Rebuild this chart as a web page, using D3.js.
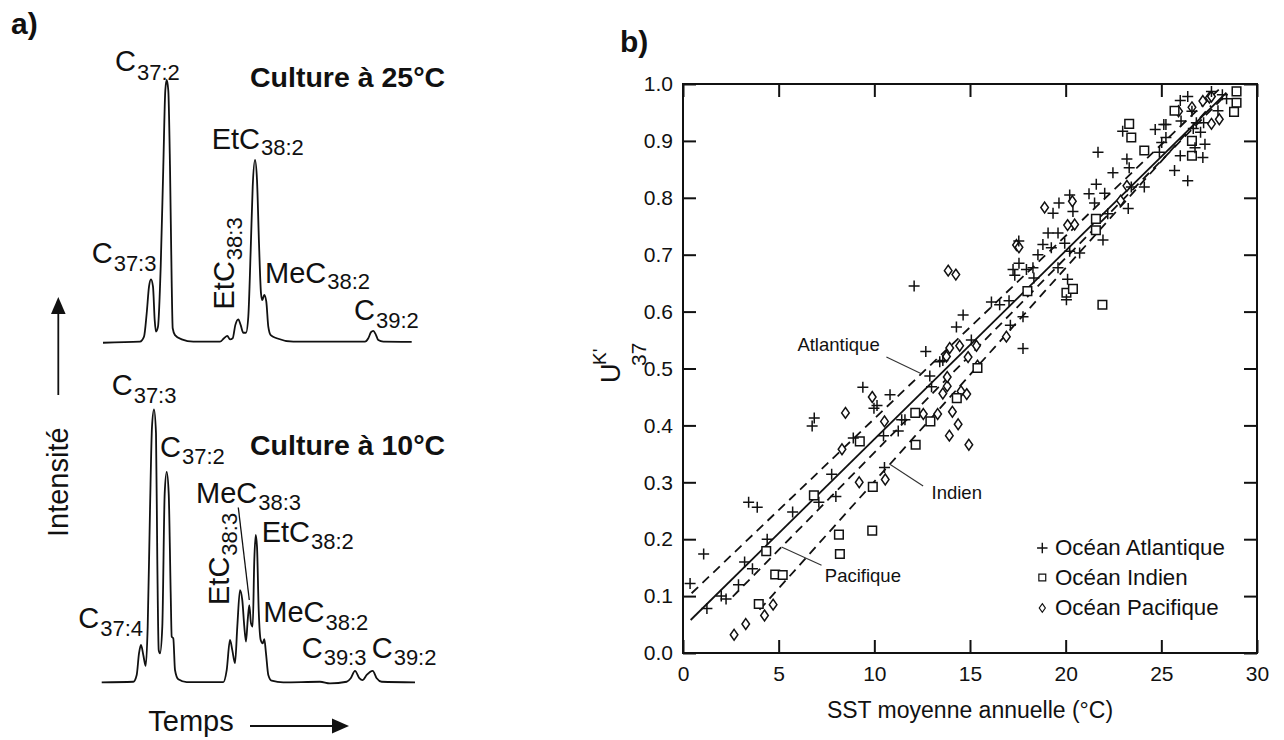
<!DOCTYPE html>
<html><head><meta charset="utf-8">
<script src="https://cdn.jsdelivr.net/npm/d3@7"></script>
<style>
body{margin:0;background:#fff}
svg{display:block}
text{font-family:"Liberation Sans",Arial,Helvetica,sans-serif;fill:#111}
</style>
</head><body>
<svg id="chart" width="1284" height="740"></svg>
<script>
// ---------------- DATA ----------------
// Panel a: chromatograms (retention time [arbitrary units], intensity [% of largest peak])
const trace25 = [[0,0.1],[3.7,0.5],[4.1,2.4],[4.37,11.3],[4.6,21.4],[4.8,24.2],[5.0,21.4],[5.17,8.7],[5.3,4.3],[5.5,6.2],[5.77,29],[6.03,67],[6.23,96],[6.37,100],[6.53,96],[6.7,67],[6.87,22.7],[6.97,5.6],[7.2,3.0],[7.87,1.4],[9.03,0.5],[11.7,0.5],[12.1,1.8],[12.43,2.7],[12.7,1.4],[12.97,1.8],[13.23,6.8],[13.53,9.0],[13.77,6.8],[14.03,3.9],[14.3,3.9],[14.53,10],[14.77,35.4],[14.97,59.4],[15.2,69.6],[15.4,62],[15.6,37.9],[15.8,18.9],[15.93,16.3],[16.13,18.3],[16.33,15.7],[16.53,6.2],[16.77,3.0],[17.37,1.8],[19.03,0.5],[26.2,0.5],[26.53,1.8],[26.8,4.1],[27.03,4.6],[27.27,3.3],[27.53,1.1],[28.03,0.5],[30.87,0.4]];
const trace10 = [[-0.13,0],[3.03,0.2],[3.37,2.7],[3.6,10.6],[3.8,13.7],[4.03,10],[4.27,6],[4.47,20.4],[4.7,63],[4.9,93.6],[5.1,100],[5.3,91.2],[5.43,44.8],[5.57,11.8],[5.7,10.6],[5.93,20.4],[6.17,69.2],[6.37,77.1],[6.57,69.2],[6.77,32.6],[6.87,16.7],[7.03,16.1],[7.2,4.5],[7.53,1.1],[8.37,0.1],[12.03,0.1],[12.37,4.5],[12.7,15.5],[12.93,11.8],[13.2,7],[13.43,20.4],[13.7,33.8],[13.93,30.1],[14.13,20.4],[14.3,14.9],[14.47,22.8],[14.63,28.3],[14.8,21.6],[14.97,20.4],[15.13,44.8],[15.27,54],[15.4,49.7],[15.57,26.5],[15.77,15.5],[15.97,14.3],[16.13,15.8],[16.3,10.6],[16.53,2.7],[16.87,0.6],[18.03,0],[21.7,0.2],[22.7,-0.4],[24.37,0.2],[24.77,1.5],[25.2,4.2],[25.63,1.5],[25.97,0.8],[26.37,2.7],[26.97,4.2],[27.37,1.5],[27.87,0.2],[31.2,0]];
const titleA25 = "Culture à 25°C";
const titleA10 = "Culture à 10°C";

// Panel b: UK'37 vs annual mean SST
const xTicks = [0, 5, 10, 15, 20, 25, 30];
const yTicks = [0.0, 0.1, 0.2, 0.3, 0.4, 0.5, 0.6, 0.7, 0.8, 0.9, 1.0];
const atlantic = [[0.37,0.122],[1.08,0.174],[1.25,0.078],[2.0,0.100],[2.25,0.095],[2.9,0.12],[3.22,0.16],[3.63,0.148],[3.43,0.265],[3.88,0.256],[4.4,0.2],[5.73,0.248],[6.75,0.399],[6.86,0.413],[7.1,0.265],[7.77,0.314],[7.99,0.275],[8.9,0.378],[9.4,0.467],[9.98,0.43],[10.14,0.435],[10.48,0.382],[10.53,0.326],[10.82,0.454],[11.25,0.39],[11.43,0.41],[11.6,0.41],[12.08,0.645],[12.69,0.53],[12.9,0.487],[12.99,0.468],[13.42,0.512],[13.58,0.514],[14.29,0.573],[14.64,0.594],[15.07,0.55],[16.12,0.617],[16.55,0.612],[17.04,0.619],[17.11,0.576],[17.77,0.535],[17.77,0.591],[17.34,0.664],[17.55,0.724],[17.25,0.674],[17.56,0.685],[17.95,0.674],[18.29,0.677],[18.34,0.659],[18.55,0.7],[18.81,0.718],[19.25,0.712],[19.08,0.738],[19.6,0.738],[19.95,0.72],[20.21,0.706],[20.73,0.703],[19.6,0.677],[19.34,0.773],[19.65,0.791],[20.21,0.805],[20.38,0.776],[21.22,0.807],[21.51,0.791],[21.6,0.824],[22.04,0.808],[21.69,0.88],[21.95,0.726],[22.47,0.844],[22.2,0.772],[20.04,0.621],[20.1,0.657],[22.98,0.917],[23.2,0.868],[23.32,0.853],[23.27,0.781],[23.43,0.819],[24.11,0.819],[24.68,0.92],[25.13,0.929],[25.24,0.929],[24.9,0.88],[25.02,0.897],[25.24,0.906],[25.69,0.848],[25.99,0.874],[25.99,0.971],[26.38,0.978],[26.03,0.935],[26.38,0.83],[26.6,0.952],[26.76,0.888],[27.05,0.915],[27.17,0.871],[27.28,0.894],[27.62,0.987],[27.96,0.953],[28.19,0.981],[28.41,0.974],[26.83,0.932],[27.21,0.932],[26.67,0.922]];
const indian = [[3.96,0.086],[4.35,0.179],[4.82,0.138],[5.21,0.137],[6.84,0.277],[8.15,0.208],[8.2,0.174],[9.24,0.372],[9.89,0.215],[9.92,0.292],[12.14,0.422],[12.16,0.366],[12.93,0.407],[14.31,0.448],[15.39,0.501],[20.04,0.633],[20.38,0.64],[21.92,0.612],[21.58,0.763],[21.58,0.743],[23.32,0.93],[23.43,0.906],[24.11,0.883],[25.69,0.953],[26.6,0.9],[26.6,0.874],[28.93,0.987],[28.93,0.967],[28.8,0.951],[18.0,0.636]];
const pacific = [[2.67,0.032],[3.28,0.051],[4.26,0.066],[4.71,0.085],[8.31,0.358],[8.49,0.422],[9.21,0.3],[9.89,0.45],[10.53,0.407],[10.57,0.305],[12.56,0.42],[13.31,0.42],[13.58,0.456],[13.81,0.469],[13.81,0.485],[13.92,0.382],[14.08,0.424],[14.38,0.402],[14.53,0.46],[14.83,0.455],[14.94,0.366],[15.39,0.505],[13.86,0.672],[14.26,0.665],[13.94,0.536],[14.46,0.54],[13.77,0.521],[15.34,0.54],[14.9,0.52],[16.9,0.556],[17.43,0.717],[17.56,0.713],[18.9,0.783],[20.1,0.752],[20.35,0.794],[20.47,0.753],[22.87,0.795],[23.2,0.821],[25.9,0.952],[26.6,0.959],[27.17,0.97],[27.51,0.976],[27.62,0.978],[27.62,0.93],[28.03,0.938]];
const globalFit = [[0.4, 0.058], [28.4, 0.985]];
const atlanticFit = [[0.45, 0.105], [28.0, 0.99]];
const pacificFit = [[2.6, 0.099], [28.2, 0.975]];
const indianFit = [[4.0, 0.076], [27.6, 0.962]];
const legendLabels = ["Océan Atlantique", "Océan Indien", "Océan Pacifique"];
const fitLabels = ["Atlantique", "Indien", "Pacifique"];
const xTitle = "SST moyenne annuelle (°C)";

// ---------------- DRAW ----------------
const svg = d3.select("#chart");
const F = '"Liberation Sans",Arial,Helvetica,sans-serif';

// ===== Panel a =====
const ga = svg.append("g");
ga.append("text").attr("x", 11).attr("y", 34).attr("font-size", 30).attr("font-weight", "bold").text("a)");

const xa = d3.scaleLinear().domain([0, 31]).range([103, 413]);
const ya25 = d3.scaleLinear().domain([0, 100]).range([343, 80]);
const ya10 = d3.scaleLinear().domain([0, 100]).range([682.3, 409.3]);

const lineA = (ys) => d3.line().x(d => xa(d[0])).y(d => ys(d[1])).curve(d3.curveMonotoneX);
ga.append("path").attr("d", lineA(ya25)(trace25)).attr("fill", "none").attr("stroke", "#111").attr("stroke-width", 1.8);
ga.append("path").attr("d", lineA(ya10)(trace10)).attr("fill", "none").attr("stroke", "#111").attr("stroke-width", 1.8);

function chem(g, x, y, main, sub, opts = {}) {
  const fs = opts.fs || 29, sfs = opts.sfs || 22, dy = opts.dy || 8;
  const t = g.append("text").attr("font-size", fs);
  if (opts.rot) {
    t.attr("transform", `translate(${x},${y}) rotate(-90)`);
  } else {
    t.attr("x", x).attr("y", y);
  }
  t.append("tspan").text(main);
  t.append("tspan").attr("font-size", sfs).attr("dy", dy).attr("dx", 1).text(sub);
  return t;
}
// top chromatogram labels
chem(ga, 115, 70.7, "C", "37:2", {dy: 9});
chem(ga, 91.7, 263.3, "C", "37:3");
chem(ga, 211.7, 149.3, "EtC", "38:2", {dy: 6});
chem(ga, 233.5, 309.5, "EtC", "38:3", {rot: true, dy: 8});
chem(ga, 265, 283.3, "MeC", "38:2", {dy: 6});
chem(ga, 354, 320, "C", "39:2", {dy: 8});
ga.append("text").attr("x", 250).attr("y", 87.3).attr("font-size", 28.5).attr("font-weight", "bold").text(titleA25);

// bottom chromatogram labels
chem(ga, 111.7, 395, "C", "37:3", {dy: 8});
chem(ga, 160, 456.7, "C", "37:2", {dy: 7});
chem(ga, 196, 503.3, "MeC", "38:3", {dy: 7});
chem(ga, 228.5, 605, "EtC", "38:3", {rot: true, dy: 8});
chem(ga, 261.7, 541.7, "EtC", "38:2", {dy: 7});
chem(ga, 78.3, 628.3, "C", "37:4", {dy: 8});
chem(ga, 263.3, 621.7, "MeC", "38:2", {dy: 8});
chem(ga, 301.7, 658.3, "C", "39:3", {dy: 7});
chem(ga, 371.7, 658.3, "C", "39:2", {dy: 7});
ga.append("text").attr("x", 250).attr("y", 455).attr("font-size", 28.5).attr("font-weight", "bold").text(titleA10);
// MeC38:3 pointer
ga.append("line").attr("x1", 238.3).attr("y1", 507.5).attr("x2", 249.3).attr("y2", 600).attr("stroke", "#111").attr("stroke-width", 1.3);

// Intensity axis (arrow) and label
ga.append("line").attr("x1", 58.3).attr("y1", 310).attr("x2", 58.3).attr("y2", 395).attr("stroke", "#111").attr("stroke-width", 1.8);
ga.append("path").attr("d", "M58.3,297 L51,314 L65.6,314 Z").attr("fill", "#111");
ga.append("text").attr("transform", "translate(68,537) rotate(-90)").attr("font-size", 29).text("Intensité");
// Time axis (arrow) and label
ga.append("text").attr("x", 148.3).attr("y", 731).attr("font-size", 29).text("Temps");
ga.append("line").attr("x1", 250).attr("y1", 726).attr("x2", 336).attr("y2", 726).attr("stroke", "#111").attr("stroke-width", 1.8);
ga.append("path").attr("d", "M349,726 L332,718.5 L332,733.5 Z").attr("fill", "#111");

// ===== Panel b =====
const gb = svg.append("g");
gb.append("text").attr("x", 620).attr("y", 52).attr("font-size", 30).attr("font-weight", "bold").text("b)");

const L = 683, R = 1257, T = 84, B = 653;
const x = d3.scaleLinear().domain([0, 30]).range([L, R]);
const y = d3.scaleLinear().domain([0, 1]).range([B, T]);

const tk = 13;
const axL = gb.append("g").attr("transform", `translate(${L},0)`)
  .call(d3.axisLeft(y).tickValues(yTicks).tickFormat(d3.format(".1f")).tickSize(-tk).tickPadding(10));
const axB = gb.append("g").attr("transform", `translate(0,${B})`)
  .call(d3.axisBottom(x).tickValues(xTicks).tickFormat(d3.format("d")).tickSize(-tk).tickPadding(13));
const axT = gb.append("g").attr("transform", `translate(0,${T})`)
  .call(d3.axisTop(x).tickValues(xTicks).tickFormat("").tickSize(-tk));
const axR = gb.append("g").attr("transform", `translate(${R},0)`)
  .call(d3.axisRight(y).tickValues(yTicks).tickFormat("").tickSize(-tk));
[axL, axB, axT, axR].forEach(a => {
  a.select(".domain").remove();
  a.selectAll("line").attr("stroke", "#111").attr("stroke-width", 2);
  a.selectAll("text").attr("font-family", F).attr("font-size", 21).attr("fill", "#111");
});
gb.append("rect").attr("x", L).attr("y", T).attr("width", R - L).attr("height", B - T)
  .attr("fill", "none").attr("stroke", "#111").attr("stroke-width", 2);

// axis titles
gb.append("text").attr("x", (L + R) / 2).attr("y", 718).attr("text-anchor", "middle").attr("font-size", 23).text(xTitle);
const yl = gb.append("text").attr("transform", "translate(640,383) rotate(-90)").attr("font-size", 27);
yl.append("tspan").attr("x", 0).attr("y", -20).text("U");
yl.append("tspan").attr("x", 18).attr("y", -34).attr("font-size", 19).text("K'");
yl.append("tspan").attr("x", 17).attr("y", 6).attr("font-size", 21).text("37");

// fit lines
const fl = d3.line().x(d => x(d[0])).y(d => y(d[1]));
gb.append("path").attr("d", fl(globalFit)).attr("stroke", "#111").attr("stroke-width", 1.8).attr("fill", "none");
[atlanticFit, pacificFit, indianFit].forEach(f => {
  gb.append("path").attr("d", fl(f)).attr("stroke", "#111").attr("stroke-width", 1.8)
    .attr("fill", "none").attr("stroke-dasharray", "9,6");
});

// points
const sym = {
  plus: "M-5.5,0H5.5M0,-5.5V5.5",
  square: "M-4.3,-4.3H4.3V4.3H-4.3Z",
  diamond: "M0,-5.4L3.8,0L0,5.4L-3.8,0Z"
};
function drawPts(data, shape) {
  gb.append("g").selectAll("path").data(data).join("path")
    .attr("transform", d => `translate(${x(d[0])},${y(d[1])})`)
    .attr("d", sym[shape]).attr("fill", shape === "plus" ? "none" : "#fff")
    .attr("stroke", "#111").attr("stroke-width", 1.5);
}
drawPts(pacific, "diamond");
drawPts(indian, "square");
drawPts(atlantic, "plus");

// fit labels with pointers
const at = (f, t) => f[0][1] + (f[1][1] - f[0][1]) * (t - f[0][0]) / (f[1][0] - f[0][0]);
function pointer(f, t, dx, dy, label, lx, ly) {
  const px = x(t), py = y(at(f, t));
  gb.append("line").attr("x1", px).attr("y1", py).attr("x2", px + dx).attr("y2", py + dy)
    .attr("stroke", "#333").attr("stroke-width", 1.1);
  gb.append("text").attr("x", px + lx).attr("y", py + ly).attr("font-size", 18.5).text(label);
}
pointer(atlanticFit, 12.46, -35, -16.7, fitLabels[0], -124, -22.7);
pointer(indianFit, 10.81, 33.3, 21.7, fitLabels[1], 41.7, 35);
pointer(pacificFit, 5.15, 40, 18.3, fitLabels[2], 43.3, 35);

// legend
const lg = gb.append("g");
const lx = 1042.3, ly0 = 548, ldy = 29.5;
const legendShapes = ["plus", "square", "diamond"];
legendLabels.forEach((lab, i) => {
  const cy = ly0 + i * ldy + (i === 2 ? 1 : 0);
  const sc = i === 0 ? 0.95 : 0.8;
  lg.append("path").attr("transform", `translate(${lx},${cy}) scale(${sc})`).attr("d", sym[legendShapes[i]])
    .attr("fill", "none").attr("stroke", "#111").attr("stroke-width", 1.5);
  lg.append("text").attr("x", 1055).attr("y", cy + 7).attr("font-size", 22.3).text(lab);
});
</script>
</body></html>
